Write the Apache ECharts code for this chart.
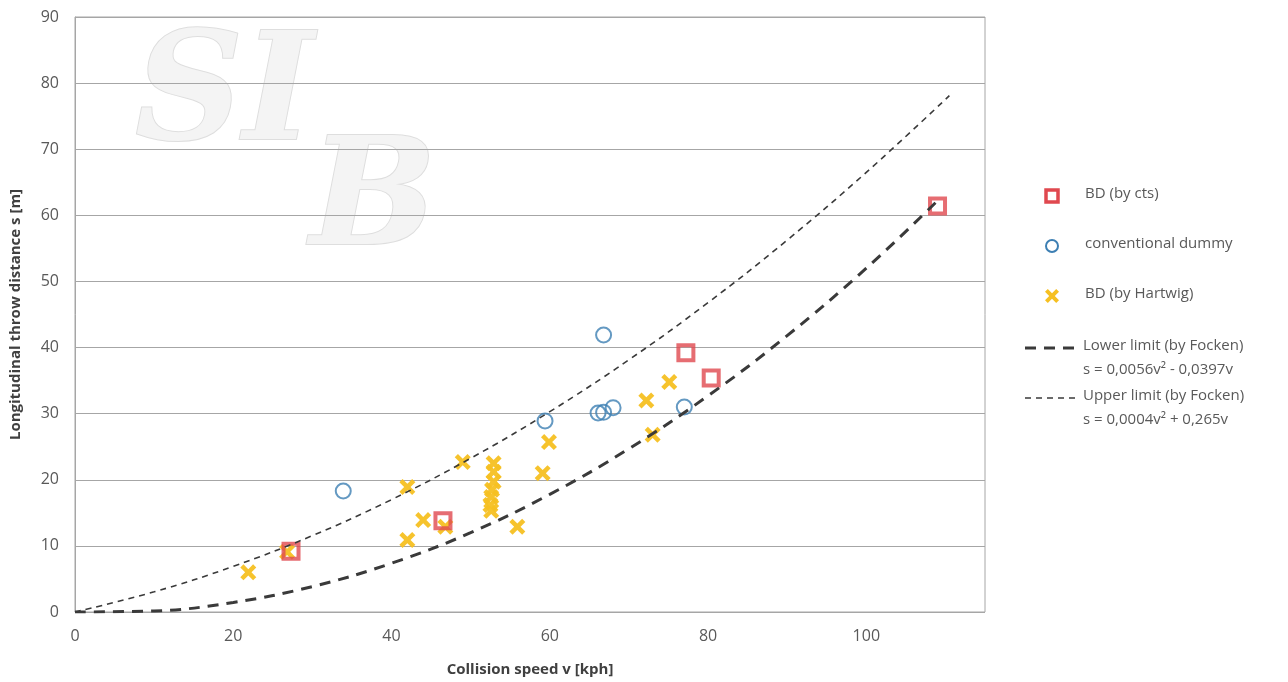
<!DOCTYPE html>
<html><head><meta charset="utf-8">
<script src="https://cdn.jsdelivr.net/npm/echarts@6/dist/echarts.min.js"></script>
<style>html,body{margin:0;padding:0;background:#fff}#c{width:1288px;height:682px}</style>
</head><body><div id="c"></div>
<script>
const xTicks = [0, 20, 40, 60, 80, 100];
const yTicks = [0, 10, 20, 30, 40, 50, 60, 70, 80, 90];
const bdCts = [[27.3, 9.2], [46.5, 13.8], [77.2, 39.2], [80.4, 35.4], [109, 61.4]];
const convDummy = [[33.9, 18.3], [59.4, 28.9], [66.8, 41.9], [66.1, 30.1], [66.8, 30.2], [68.0, 30.9], [77.0, 31.0]];
const bdHartwig = [[21.9, 6.0], [26.8, 9.1], [42.0, 18.9], [42.0, 10.9], [44.0, 13.9], [46.8, 12.9], [49.0, 22.7],
  [52.9, 22.5], [52.9, 21.2], [52.9, 19.7], [52.7, 18.5], [52.6, 17.4], [52.5, 16.2], [52.6, 15.3],
  [55.9, 12.9], [59.1, 21.0], [59.9, 25.7], [72.2, 32.0], [73.0, 26.8], [75.1, 34.8]];
const lowerV = [0, 10, 20, 30, 40, 50, 60, 70, 80, 90, 100, 109];
const lowerS = [0, 0.16, 1.45, 3.85, 7.37, 12.0, 17.8, 24.7, 32.7, 41.8, 52.0, 62.2];
const upperV = [0, 10, 20, 30, 40, 50, 60, 70, 80, 90, 100, 110.5];
const upperS = [0, 3.05, 6.9, 11.55, 17.0, 23.25, 30.3, 38.15, 46.8, 56.25, 66.5, 78.1];
const legendNames = ['BD (by cts)', 'conventional dummy', 'BD (by Hartwig)'];
const lineLegend = ['Lower limit (by Focken)', 's = 0,0056v² - 0,0397v', 'Upper limit (by Focken)', 's = 0,0004v² + 0,265v'];

const RED = '#e0484f', BLUE = '#3d7fb3', YEL = '#f6c022', DARK = '#3a3a3a', TXT = '#595959';
const xPts = [[0,4],[4,0],[10,6],[16,0],[20,4],[14,10],[20,16],[16,20],[10,14],[4,20],[0,16],[6,10]];
const xPath = 'path://M' + xPts.map(p => p.join(',')).join(' L') + ' Z';
const font = '"Open Sans", "Liberation Sans", sans-serif';
const xPoly = xPts.map(p => [1045 + p[0] * 0.7, 289 + p[1] * 0.7]);

const chart = echarts.init(document.getElementById('c'), null, {renderer: 'canvas'});
const zip = (a, b) => a.map((v, i) => [v, b[i]]);

chart.setOption({
  backgroundColor: '#fff',
  animation: false,
  grid: {left: 74, right: 303, top: 17, bottom: 70, show: true, borderColor: '#a6a6a6', borderWidth: 1},
  xAxis: {
    type: 'value', min: 0, max: 115, interval: 20,
    name: 'Collision speed v [kph]', nameLocation: 'middle', nameGap: 50,
    nameTextStyle: {fontFamily: font, fontSize: 15, fontWeight: 'bold', color: '#404040'},
    axisLine: {show: false}, axisTick: {show: false}, splitLine: {show: false},
    axisLabel: {fontFamily: font, fontSize: 16, color: TXT, margin: 16, showMaxLabel: false,
      formatter: v => xTicks.includes(v) ? String(v) : ''}
  },
  yAxis: {
    type: 'value', min: 0, max: 90, interval: 10,
    name: 'Longitudinal throw distance s [m]', nameLocation: 'middle', nameGap: 52,
    nameTextStyle: {fontFamily: font, fontSize: 15, fontWeight: 'bold', color: '#404040'},
    axisLine: {show: true, lineStyle: {color: '#a6a6a6'}}, axisTick: {show: false},
    splitLine: {show: true, lineStyle: {color: '#a6a6a6', width: 1}},
    axisLabel: {fontFamily: font, fontSize: 16, color: TXT, margin: 16,
      formatter: v => yTicks.includes(v) ? String(v) : ''}
  },
  graphic: [
    {type: 'text', x: 135, y: 25, z: 0, silent: true,
      style: {text: 'SI', font: 'italic bold 150px "DejaVu Serif", serif', fill: '#f4f4f4', stroke: '#dedede', lineWidth: 2}},
    {type: 'text', x: 310, y: 130, z: 0, silent: true,
      style: {text: 'B', font: 'italic bold 150px "DejaVu Serif", serif', fill: '#f4f4f4', stroke: '#dedede', lineWidth: 2}},
    {type: 'rect', shape: {x: 1046, y: 190, width: 12, height: 12}, style: {fill: '#fff', stroke: RED, lineWidth: 3.5}},
    {type: 'text', x: 1085, y: 186, style: {text: legendNames[0], font: '15px ' + font, fill: TXT}},
    {type: 'circle', shape: {cx: 1052, cy: 246, r: 6}, style: {fill: 'none', stroke: BLUE, lineWidth: 2}},
    {type: 'text', x: 1085, y: 236, style: {text: legendNames[1], font: '15px ' + font, fill: TXT}},
    {type: 'polygon', shape: {points: xPoly}, style: {fill: YEL}},
    {type: 'text', x: 1085, y: 286, style: {text: legendNames[2], font: '15px ' + font, fill: TXT}},
    {type: 'line', shape: {x1: 1025, y1: 348, x2: 1079, y2: 348}, style: {stroke: DARK, lineWidth: 3, lineDash: [11, 8]}},
    {type: 'text', x: 1083, y: 338, style: {text: lineLegend[0], font: '15px ' + font, fill: TXT}},
    {type: 'text', x: 1083, y: 362, style: {text: lineLegend[1], font: '15px ' + font, fill: TXT}},
    {type: 'line', shape: {x1: 1025, y1: 398, x2: 1079, y2: 398}, style: {stroke: DARK, lineWidth: 1.5, lineDash: [6, 5]}},
    {type: 'text', x: 1083, y: 388, style: {text: lineLegend[2], font: '15px ' + font, fill: TXT}},
    {type: 'text', x: 1083, y: 412, style: {text: lineLegend[3], font: '15px ' + font, fill: TXT}}
  ],
  series: [
    {name: legendNames[2], type: 'scatter', data: bdHartwig, symbol: xPath, symbolSize: 16,
      itemStyle: {color: YEL, opacity: 0.95}, z: 3},
    {name: legendNames[1], type: 'scatter', data: convDummy, symbol: 'circle', symbolSize: 15,
      itemStyle: {color: 'rgba(255,255,255,0)', borderColor: BLUE, borderWidth: 2}, z: 4},
    {name: legendNames[0], type: 'scatter', data: bdCts, symbol: 'rect', symbolSize: 15,
      itemStyle: {color: 'rgba(255,255,255,0)', borderColor: RED, borderWidth: 4}, z: 5},
    {name: lineLegend[0], type: 'line', data: zip(lowerV, lowerS), smooth: 0.4, symbol: 'none', z: 6,
      lineStyle: {color: DARK, width: 3, type: [11, 8]}},
    {name: lineLegend[2], type: 'line', data: zip(upperV, upperS), smooth: 0.4, symbol: 'none', z: 6,
      lineStyle: {color: DARK, width: 1.6, type: [6, 5]}}
  ]
});
</script></body></html>
